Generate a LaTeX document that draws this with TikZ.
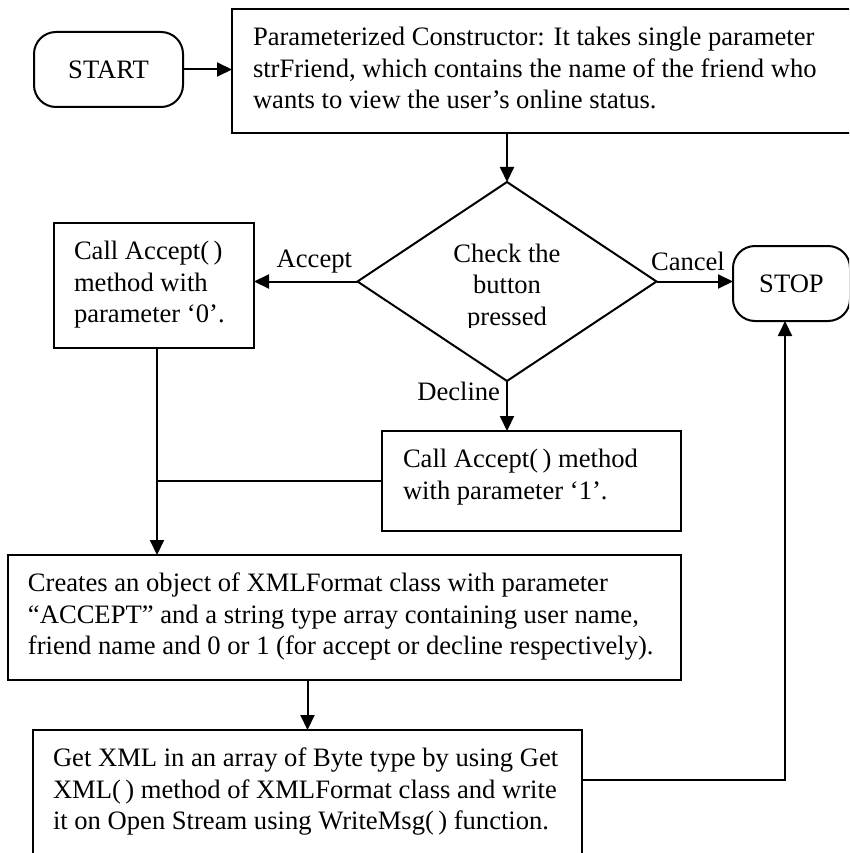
\documentclass[tikz,border=0pt]{standalone}
\usepackage{fontspec}
\setmainfont{Liberation Serif}
\usetikzlibrary{arrows.meta,shapes.geometric}

% text block inside a process box: fixed height, top aligned, left indent
\newcommand\boxlines[4]{\parbox[c][#1][t]{#2}{\vspace*{14.5pt}\raggedright\leftskip=#3\relax\strut #4}}

\begin{document}
\begin{tikzpicture}[x=1pt,y=-1pt,
  every node/.style={font=\fontsize{26.6pt}{31.5pt}\selectfont},
  box/.style={draw, line width=2pt, inner sep=0pt, outer sep=0pt, anchor=north west},
  term/.style={draw, line width=2pt, rounded corners=22pt, minimum height=75pt,
               inner sep=0pt, outer sep=0pt},
  decision/.style={draw, diamond, line width=2pt, minimum width=299pt,
                   minimum height=199pt, inner sep=0pt, outer sep=0pt},
  flow/.style={line width=2pt, -{Triangle[length=15pt,width=14pt]}},
  link/.style={line width=2pt},
  lbl/.style={inner sep=0pt, outer sep=0pt}]

\useasboundingbox (0,0) rectangle (849,853);
\fill[white] (0,0) rectangle (849,853);
\clip (0,0) rectangle (849,853);

% terminals
\node[term, minimum width=149pt] (start) at (108.5,69.5) {START};
\node[term, minimum width=117pt] (stop) at (791.5,283.5) {STOP};

% process boxes
\node[box] (top) at (232,9) {\boxlines{124pt}{640pt}{21pt}{%
  Parameterized Constructor: It takes single parameter\\
  strFriend, which contains the name of the friend who\\
  wants to view the user’s online status.}};

\node[box] (lbox) at (54,223) {\boxlines{125pt}{200pt}{20pt}{%
  Call Accept(\,)\\
  method with\\
  parameter ‘0’.}};

\node[box] (rbox) at (382,431) {\boxlines{100pt}{299pt}{21pt}{%
  Call Accept(\,) method\\
  with parameter ‘1’.}};

\node[box] (xml) at (8,555) {\boxlines{125pt}{673pt}{20pt}{%
  Creates an object of XMLFormat class with parameter\\
  “ACCEPT” and a string type array containing user name,\\
  friend name and 0 or 1 (for accept or decline respectively).}};

\node[box] (bot) at (33,730) {\boxlines{150pt}{549pt}{20pt}{%
  Get XML in an array of Byte type by using Get\\
  XML(\,) method of XMLFormat class and write\\
  it on Open Stream using WriteMsg(\,) function.}};

% decision
\node[decision] (q) at (507,281.5) {};
\begin{scope}
  \clip (400,200) rectangle (620,327);
  \node[lbl, anchor=north] (qtext) at (507,240)
    {\parbox{200pt}{\centering\strut Check the\\button\\pressed}};
\end{scope}

% branch labels
\node[lbl, anchor=base east] (lacc) at (352,267) {Accept};
\node[lbl, anchor=base west] (lcan) at (651,270) {Cancel};
\node[lbl, anchor=base east] (ldec) at (500,400) {Decline};

% connectors
\coordinate (j) at (157,481);
\coordinate (r) at (785,780);

\draw[flow] (start) -- (start -| top.west);
\draw[flow] (top.south -| q.north) -- (q.north);
\draw[flow] (q.west) -- (q.west -| lbox.east);
\draw[flow] (q.east) -- (q.east -| stop.west);
\draw[flow] (q.south) -- (q.south |- rbox.north);
\draw[link] (rbox.west) -- (rbox.west -| j);
\draw[flow] (lbox.south -| j) -- (j |- xml.north);
\draw[flow] (xml.south -| bot.north) -- (bot.north);
\draw[flow] (bot.east |- r) -- (r) -- (r |- stop.south);

\end{tikzpicture}
\end{document}
